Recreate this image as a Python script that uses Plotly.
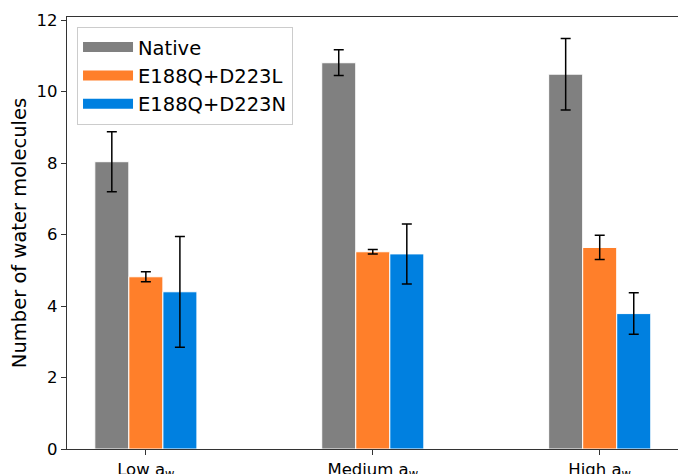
import plotly.graph_objects as go

categories = ["Low a<sub>w</sub>", "Medium a<sub>w</sub>", "High a<sub>w</sub>"]
series_names = ["Native", "E188Q+D223L", "E188Q+D223N"]
native = [8.04, 10.81, 10.49]
native_err = [0.84, 0.36, 1.00]
e188q_d223l = [4.82, 5.52, 5.64]
e188q_d223l_err = [0.14, 0.06, 0.34]
e188q_d223n = [4.40, 5.46, 3.79]
e188q_d223n_err = [1.55, 0.84, 0.58]
colors = ["#808080", "#ff7f2a", "#0080e0"]

values = [native, e188q_d223l, e188q_d223n]
errors = [native_err, e188q_d223l_err, e188q_d223n_err]

fig = go.Figure()
for name, vals, errs, col in zip(series_names, values, errors, colors):
    fig.add_trace(go.Bar(
        x=categories, y=vals, name=name, showlegend=False,
        marker=dict(color=col, line=dict(color="white", width=1)),
        error_y=dict(type="data", array=errs, color="black", thickness=1.5, width=5),
    ))
for name, col in zip(series_names, colors):
    fig.add_trace(go.Scatter(
        x=[None], y=[None], mode="lines", name=name, legendgroup=name,
        line=dict(color=col, width=12), showlegend=True,
    ))

font = "DejaVu Sans, Liberation Sans, sans-serif"
fig.update_layout(
    width=678, height=474,
    margin=dict(l=67, r=0, t=17, b=25, autoexpand=False),
    paper_bgcolor="white", plot_bgcolor="white",
    barmode="group", bargap=0.55, bargroupgap=0,
    font=dict(family=font, color="black", size=16.5),
    legend=dict(
        x=0.0164, y=0.977, xanchor="left", yanchor="top",
        bgcolor="white", bordercolor="#cccccc", borderwidth=1,
        font=dict(size=19.5, family=font, color="black"),
        itemwidth=50, tracegroupgap=0,
    ),
    xaxis=dict(
        type="category", range=[-0.3475, 2.345], automargin=False,
        showline=True, linecolor="#333333", linewidth=1.2, mirror=True,
        ticks="outside", ticklen=5, tickcolor="#333333",
        showgrid=False, zeroline=False,
        tickfont=dict(size=16.5, family=font, color="black"),
    ),
    yaxis=dict(
        range=[0, 12.09], tickvals=[0, 2, 4, 6, 8, 10, 12], automargin=False,
        showline=True, linecolor="#333333", linewidth=1.2,
        ticks="outside", ticklen=5, tickcolor="#333333",
        showgrid=False, zeroline=False,
        tickfont=dict(size=16.5, family=font, color="black"),
        title=dict(text="Number of water molecules", font=dict(size=19.5, family=font, color="black"), standoff=4),
    ),
)

# remove the browser's default 8px body margin so the figure fills the window exactly
fig.write_html(
    "out.html",
    config={"displayModeBar": False},
    post_script="document.body.style.margin='0';document.body.style.overflow='hidden';",
)
